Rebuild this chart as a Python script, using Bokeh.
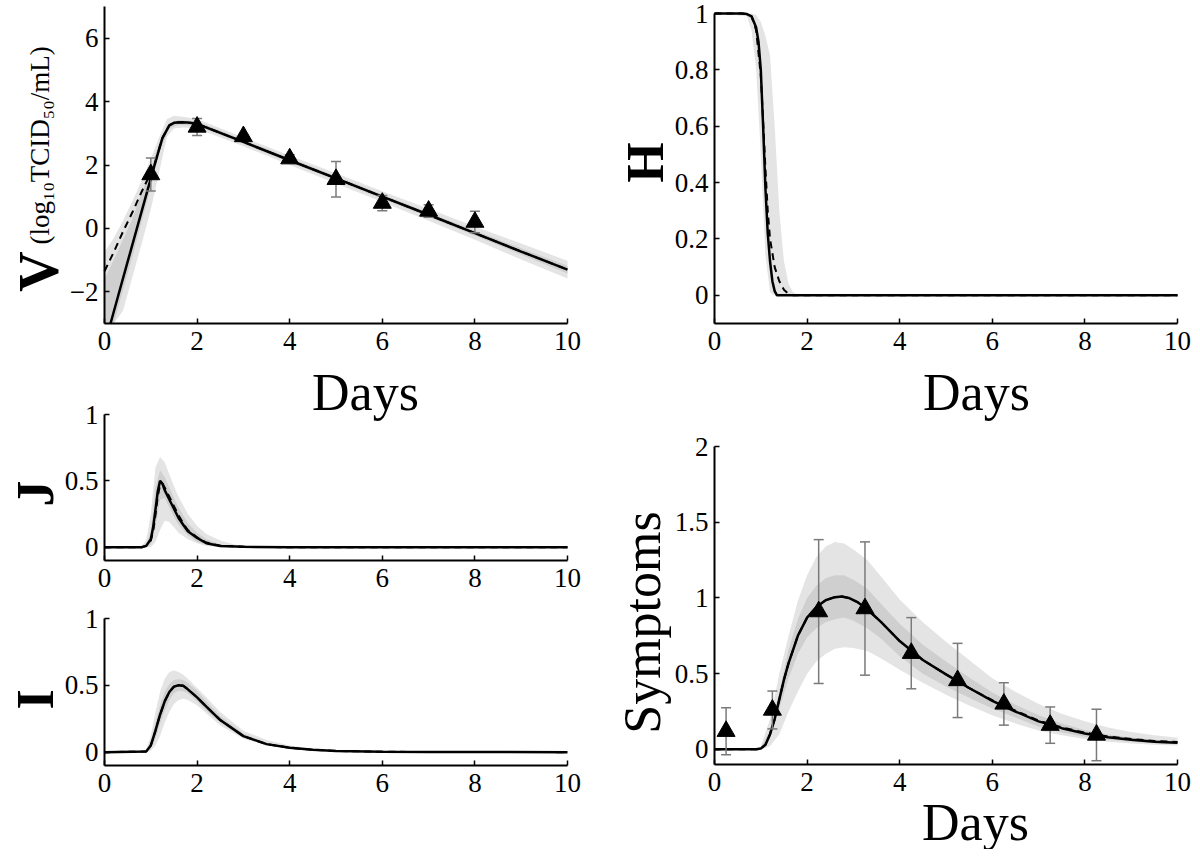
import numpy as np
from math import pi
from bokeh.plotting import figure
from bokeh.layouts import row, column
from bokeh.models import FixedTicker, CustomJSTickFormatter, Label, Range1d
from bokeh.embed import file_html
from bokeh.resources import INLINE

FONT = "Liberation Serif"
X_TICKS = [0, 2, 4, 6, 8, 10]
X_LABEL = "Days"

# ---------------- V panel (viral titer) ----------------
v_x = [0.13, 0.3, 0.5, 0.7, 0.9, 1.1, 1.25, 1.4, 1.5, 1.65, 1.8, 2.0, 3, 4, 5, 6, 7, 8, 9, 10]
v_fit = [-3.0, -2.1, -1.05, 0.0, 1.05, 2.1, 2.85, 3.25, 3.33, 3.35, 3.34, 3.3, 2.73, 2.15, 1.58, 1.0, 0.43, -0.15, -0.73, -1.3]
v_x_dash = [0, 0.2, 0.4, 0.6, 0.8, 1.0, 1.1, 1.25, 1.4, 1.5, 1.65, 1.8, 2.0, 3, 4, 5, 6, 7, 8, 9, 10]
v_fit_dash = [-1.35, -0.75, -0.1, 0.5, 1.15, 1.75, 2.1, 2.85, 3.25, 3.33, 3.35, 3.34, 3.3, 2.73, 2.15, 1.58, 1.0, 0.43, -0.15, -0.73, -1.3]
v_band_x = [0, 0.2, 0.4, 0.6, 0.8, 1.0, 1.2, 1.35, 1.5, 1.7, 2.0, 3, 4, 5, 6, 7, 8, 9, 10]
v_outer_hi = [-0.75, -0.3, 0.25, 0.85, 1.5, 2.2, 2.95, 3.45, 3.55, 3.52, 3.45, 2.87, 2.3, 1.74, 1.17, 0.62, 0.06, -0.48, -1.02]
v_outer_lo = [-4.5, -3.6, -2.6, -1.55, -0.5, 0.6, 1.9, 2.9, 3.15, 3.18, 3.15, 2.59, 2.0, 1.42, 0.83, 0.24, -0.36, -0.98, -1.58]
v_inner_x = [0, 0.2, 0.4, 0.6, 0.8, 1.0, 1.2, 1.4, 1.6, 2.0, 3, 4, 5, 6, 7, 8, 9, 10]
v_inner_hi = [-1.6, -1.0, -0.35, 0.3, 1.1, 1.9, 2.75, 3.32, 3.42, 3.37, 2.8, 2.22, 1.65, 1.07, 0.5, -0.07, -0.63, -1.18]
v_inner_lo = [-4.0, -3.0, -1.95, -0.9, 0.2, 1.3, 2.45, 3.15, 3.27, 3.23, 2.66, 2.08, 1.51, 0.93, 0.36, -0.23, -0.83, -1.42]
v_days = [1, 2, 3, 4, 5, 6, 7, 8]
v_obs = [1.7, 3.2, 2.9, 2.2, 1.55, 0.8, 0.55, 0.2]
v_err = [0.52, 0.27, 0.05, 0.12, 0.56, 0.24, 0.2, 0.34]
v_yticks = [-2, 0, 2, 4, 6]

# ---------------- H panel ----------------
h_x = [0, 0.6, 0.7, 0.8, 0.9, 0.95, 1.0, 1.05, 1.1, 1.15, 1.2, 1.25, 1.3, 1.35, 1.5, 10]
h_fit = [1, 1, 0.998, 0.99, 0.95, 0.9, 0.8, 0.6, 0.38, 0.22, 0.12, 0.05, 0.015, 0, 0, 0]
h_x_dash = [0, 0.6, 0.7, 0.8, 0.9, 1.0, 1.05, 1.1, 1.15, 1.2, 1.3, 1.4, 1.5, 1.6, 1.7, 10]
h_fit_dash = [1, 1, 0.998, 0.99, 0.94, 0.78, 0.62, 0.45, 0.3, 0.2, 0.1, 0.05, 0.02, 0.005, 0, 0]
h_band_x = [0, 0.7, 0.8, 0.9, 1.0, 1.1, 1.2, 1.3, 1.4, 1.5, 1.6, 1.7, 1.8, 10]
h_band_hi = [1, 1, 1, 0.995, 0.97, 0.92, 0.85, 0.6, 0.3, 0.12, 0.04, 0.01, 0.003, 0]
h_band_lo = [1, 0.99, 0.94, 0.8, 0.5, 0.14, 0.01, 0, 0, 0, 0, 0, 0, 0]
h_yticks = [0, 0.2, 0.4, 0.6, 0.8, 1]

# ---------------- J panel ----------------
j_x = [0, 0.8, 0.9, 1.0, 1.05, 1.1, 1.15, 1.2, 1.25, 1.3, 1.4, 1.5, 1.6, 1.7, 1.8, 2.0, 2.2, 2.5, 3.0, 4.0, 10]
j_fit = [0, 0, 0.01, 0.06, 0.15, 0.28, 0.42, 0.5, 0.48, 0.43, 0.36, 0.29, 0.22, 0.17, 0.12, 0.07, 0.03, 0.01, 0.003, 0, 0]
j_fit_dash = [0, 0, 0.01, 0.05, 0.12, 0.24, 0.38, 0.47, 0.48, 0.45, 0.38, 0.31, 0.24, 0.18, 0.13, 0.075, 0.035, 0.012, 0.003, 0, 0]
j_outer_x = [0, 0.7, 0.8, 0.9, 1.0, 1.1, 1.2, 1.3, 1.4, 1.5, 1.6, 1.8, 2.0, 2.2, 2.5, 2.8, 3.2, 4, 10]
j_outer_hi = [0, 0, 0.01, 0.05, 0.25, 0.6, 0.68, 0.64, 0.55, 0.46, 0.38, 0.25, 0.16, 0.1, 0.05, 0.02, 0.005, 0, 0]
j_outer_lo = [0, 0, 0, 0, 0, 0.04, 0.13, 0.2, 0.19, 0.15, 0.11, 0.06, 0.03, 0.01, 0, 0, 0, 0, 0]
j_inner_x = [0.8, 0.9, 1.0, 1.1, 1.2, 1.3, 1.4, 1.5, 1.6, 1.8, 2.0, 2.2, 2.5, 3.0]
j_inner_hi = [0, 0.02, 0.12, 0.45, 0.58, 0.53, 0.45, 0.37, 0.3, 0.18, 0.11, 0.06, 0.02, 0]
j_inner_lo = [0, 0, 0.02, 0.15, 0.36, 0.37, 0.3, 0.23, 0.17, 0.09, 0.04, 0.02, 0.005, 0]
ji_yticks = [0, 0.5, 1]

# ---------------- I panel ----------------
i_x = [0, 0.9, 1.0, 1.1, 1.2, 1.3, 1.4, 1.5, 1.6, 1.7, 1.8, 2.0, 2.2, 2.5, 3.0, 3.5, 4.0, 4.5, 5, 6, 7, 10]
i_fit = [0, 0.005, 0.05, 0.16, 0.28, 0.38, 0.45, 0.49, 0.5, 0.497, 0.47, 0.41, 0.34, 0.24, 0.12, 0.06, 0.033, 0.017, 0.009, 0.003, 0.001, 0]
i_band_x = [0.8, 0.9, 1.0, 1.1, 1.2, 1.3, 1.4, 1.5, 1.6, 1.7, 1.8, 2.0, 2.2, 2.5, 3.0, 3.5, 4.0, 4.5, 5, 6, 7, 10]
i_outer_hi = [0, 0.02, 0.12, 0.3, 0.45, 0.55, 0.6, 0.61, 0.6, 0.58, 0.55, 0.48, 0.41, 0.3, 0.16, 0.09, 0.05, 0.025, 0.013, 0.004, 0.001, 0]
i_outer_lo = [0, 0, 0.01, 0.05, 0.12, 0.22, 0.3, 0.36, 0.39, 0.4, 0.39, 0.35, 0.29, 0.2, 0.1, 0.05, 0.025, 0.012, 0.006, 0.002, 0, 0]
i_inner_hi = [0, 0.01, 0.08, 0.22, 0.35, 0.45, 0.51, 0.54, 0.545, 0.54, 0.52, 0.46, 0.38, 0.27, 0.14, 0.07, 0.04, 0.02, 0.01, 0.003, 0.001, 0]
i_inner_lo = [0, 0, 0.03, 0.1, 0.21, 0.31, 0.39, 0.44, 0.46, 0.455, 0.44, 0.38, 0.31, 0.22, 0.11, 0.055, 0.028, 0.014, 0.007, 0.002, 0, 0]

# ---------------- Symptoms panel ----------------
s_x = [0, 0.9, 1.0, 1.1, 1.2, 1.3, 1.4, 1.5, 1.6, 1.8, 2.0, 2.2, 2.4, 2.6, 2.75, 2.9, 3.1, 3.3, 3.6, 4.0, 4.5, 5.0, 5.5, 6.0, 6.5, 7.0, 7.5, 8.0, 8.5, 9.0, 9.5, 10]
s_fit = [0, 0, 0.005, 0.03, 0.1, 0.2, 0.33, 0.46, 0.57, 0.75, 0.87, 0.94, 0.985, 1.005, 1.01, 1.0, 0.97, 0.925, 0.84, 0.715, 0.59, 0.495, 0.405, 0.32, 0.25, 0.185, 0.14, 0.105, 0.08, 0.063, 0.051, 0.043]
s_fit_dash = [0, 0, 0.005, 0.03, 0.1, 0.2, 0.33, 0.46, 0.57, 0.75, 0.87, 0.94, 0.985, 1.005, 1.01, 1.0, 0.97, 0.925, 0.84, 0.715, 0.59, 0.495, 0.405, 0.325, 0.255, 0.19, 0.145, 0.11, 0.085, 0.068, 0.056, 0.048]
s_band_x = [0, 0.9, 1.0, 1.2, 1.4, 1.6, 1.8, 2.0, 2.2, 2.4, 2.6, 2.8, 3.0, 3.3, 3.6, 4.0, 4.5, 5.0, 5.5, 6.0, 6.5, 7.0, 7.5, 8.0, 8.5, 9.0, 9.5, 10]
s_outer_hi = [0, 0, 0.02, 0.2, 0.5, 0.75, 0.98, 1.15, 1.27, 1.34, 1.37, 1.36, 1.32, 1.25, 1.14, 0.99, 0.84, 0.71, 0.59, 0.47, 0.38, 0.3, 0.235, 0.185, 0.145, 0.115, 0.093, 0.077]
s_outer_lo = [0, 0, 0, 0.02, 0.1, 0.25, 0.38, 0.5, 0.58, 0.63, 0.665, 0.675, 0.67, 0.65, 0.6, 0.525, 0.44, 0.36, 0.29, 0.225, 0.17, 0.125, 0.093, 0.068, 0.05, 0.038, 0.031, 0.026]
s_inner_hi = [0, 0, 0.01, 0.13, 0.38, 0.66, 0.86, 1.0, 1.08, 1.13, 1.15, 1.15, 1.12, 1.06, 0.96, 0.83, 0.69, 0.58, 0.475, 0.375, 0.295, 0.225, 0.17, 0.128, 0.098, 0.078, 0.064, 0.055]
s_inner_lo = [0, 0, 0, 0.07, 0.27, 0.47, 0.63, 0.74, 0.8, 0.84, 0.86, 0.87, 0.85, 0.8, 0.73, 0.615, 0.5, 0.415, 0.34, 0.27, 0.21, 0.15, 0.112, 0.083, 0.063, 0.05, 0.04, 0.033]
s_days = [0.25, 1.25, 2.25, 3.25, 4.25, 5.25, 6.25, 7.25, 8.25]
s_obs = [0.12, 0.26, 0.91, 0.93, 0.635, 0.455, 0.3, 0.16, 0.095]
s_err = [0.155, 0.125, 0.475, 0.44, 0.235, 0.245, 0.14, 0.12, 0.17]
s_yticks = [0, 0.5, 1, 1.5, 2]

OUTER = "#e4e4e4"
INNER = "#cfcfcf"
ERR = "#7a7a7a"

fmt_code = "var v = Math.round(tick*100)/100; return (v < 0 ? '\u2212' : '') + String(Math.abs(v));"


class Panel:
    """A figure whose frame fills the whole canvas; axes are pinned at x=0 / y=y0."""

    def __init__(self, left, top, w, h, px0, px10, pyt, pyb, y0, y1, yticks):
        self.left, self.top = left, top
        self.sx = (px10 - px0) / 10.0
        self.sy = (pyb - pyt) / float(y1 - y0)
        self.x_start = -px0 / self.sx
        x_end = 10 + (w - px10) / self.sx
        self.y_end = y1 + pyt / self.sy
        y_start = y0 - (h - pyb) / self.sy
        p = figure(width=w, height=h, x_range=Range1d(self.x_start, x_end),
                   y_range=Range1d(y_start, self.y_end),
                   output_backend="svg", toolbar_location=None, title=None,
                   min_border_left=0, min_border_right=0, min_border_top=0, min_border_bottom=0)
        p.outline_line_color = None
        p.xgrid.visible = False
        p.ygrid.visible = False
        p.background_fill_color = "white"
        p.border_fill_color = "white"
        p.xaxis.ticker = FixedTicker(ticks=X_TICKS)
        p.yaxis.ticker = FixedTicker(ticks=yticks)
        p.xaxis.fixed_location = y0
        p.yaxis.fixed_location = 0
        p.xaxis.bounds = (0, 10)
        p.yaxis.bounds = (y0, y1)
        for ax in (p.xaxis[0], p.yaxis[0]):
            ax.formatter = CustomJSTickFormatter(code=fmt_code)
            ax.axis_line_width = 2
            ax.axis_line_color = "black"
            ax.major_tick_in = 5
            ax.major_tick_out = 0
            ax.major_tick_line_width = 1.5
            ax.major_tick_line_color = "black"
            ax.minor_tick_line_color = None
            ax.major_label_text_font = FONT
            ax.major_label_text_font_size = "27px"
            ax.major_label_text_color = "black"
        p.xaxis[0].major_label_standoff = 8
        p.yaxis[0].major_label_standoff = 6
        self.p = p
        self.y0 = y0

    def text(self, page_x, page_y, text, size_px, bold=False, vertical=False, align="center"):
        # page_x/page_y give the baseline anchor of the text in page pixels;
        # the renderer draws the baseline ~0.2 em lower than the anchor, so compensate.
        drop = 0.205 * size_px
        if vertical:
            page_x -= drop
        else:
            page_y -= drop
        x = self.x_start + (page_x - self.left) / self.sx
        y = self.y_end - (page_y - self.top) / self.sy
        self.p.add_layout(Label(x=x, y=y, text=text, angle=pi / 2 if vertical else 0.0,
                                text_font=FONT, text_font_size=f"{size_px}px",
                                text_font_style="bold" if bold else "normal",
                                text_align=align, text_baseline="alphabetic",
                                text_color="black"))

    def band(self, x, lo, hi, color):
        lo = np.maximum(np.array(lo, dtype=float), self.y0)
        hi = np.maximum(np.array(hi, dtype=float), self.y0)
        self.p.varea(x=x, y1=lo, y2=hi, fill_color=color, fill_alpha=1.0)

    def curves(self, x, y, xd=None, yd=None):
        if xd is not None:
            self.p.line(xd, yd, line_color="black", line_width=2, line_dash="7 5")
        self.p.line(x, y, line_color="black", line_width=2.5)

    def observations(self, xs, ys, es):
        xs = np.array(xs, dtype=float)
        ys = np.array(ys, dtype=float)
        es = np.array(es, dtype=float)
        cap = 5.0 / self.sx
        p = self.p
        p.segment(x0=xs, y0=ys - es, x1=xs, y1=ys + es, line_color=ERR, line_width=1.5)
        p.segment(x0=xs - cap, y0=ys + es, x1=xs + cap, y1=ys + es, line_color=ERR, line_width=1.5)
        p.segment(x0=xs - cap, y0=ys - es, x1=xs + cap, y1=ys - es, line_color=ERR, line_width=1.5)
        p.scatter(xs, ys, marker="triangle", size=18, fill_color="black", line_color="black")


L, R = 8, 608          # page x of the two columns
LW, RW = 600, 591      # column widths

# ---- V  (canvas page y 8..366)
V = Panel(L, 8, LW, 358, 104, 567, 6, 323, -3, 7, v_yticks)
V.band(v_band_x, v_outer_lo, v_outer_hi, OUTER)
V.band(v_inner_x, v_inner_lo, v_inner_hi, INNER)
V.curves(v_x, v_fit, v_x_dash, v_fit_dash)
V.observations(v_days, v_obs, v_err)
V.text(58, 279, "V", 56, bold=True, vertical=True)
V.text(53, 252, "(log\u2081\u2080TCID\u2085\u2080/mL)", 27, vertical=True, align="left")

# ---- J  (canvas page y 366..610)
J = Panel(L, 366, LW, 244, 104, 567, 56, 202, -0.1, 1, ji_yticks)
J.band(j_outer_x, j_outer_lo, j_outer_hi, OUTER)
J.band(j_inner_x, j_inner_lo, j_inner_hi, INNER)
J.curves(j_x, j_fit, j_x, j_fit_dash)
J.text(373, 411, X_LABEL, 52)          # x-axis title of the V panel above
J.text(54, 501, "J", 52, bold=True, vertical=True)

# ---- I  (canvas page y 610..857)
I = Panel(L, 610, LW, 247, 104, 567, 16, 163, -0.1, 1, ji_yticks)
I.band(i_band_x, i_outer_lo, i_outer_hi, OUTER)
I.band(i_band_x, i_inner_lo, i_inner_hi, INNER)
I.curves(i_x, i_fit, i_x, i_fit)
I.text(54, 707, "I", 52, bold=True, vertical=True)

# ---- H  (canvas page y 8..440)
H = Panel(R, 8, RW, 432, 114, 577, 13, 323, -0.1, 1, h_yticks)
H.band(h_band_x, h_band_lo, h_band_hi, OUTER)
H.curves(h_x, h_fit, h_x_dash, h_fit_dash)
H.text(984, 411, X_LABEL, 52)
H.text(664, 170, "H", 52, bold=True, vertical=True)

# ---- Symptoms  (canvas page y 440..857)
S = Panel(R, 440, RW, 417, 114, 577, 14, 332, -0.1, 2, s_yticks)
S.band(s_band_x, s_outer_lo, s_outer_hi, OUTER)
S.band(s_band_x, s_inner_lo, s_inner_hi, INNER)
S.curves(s_x, s_fit, s_x, s_fit_dash)
S.observations(s_days, s_obs, s_err)
S.text(983, 841, X_LABEL, 52)
S.text(661, 630, "Symptoms", 52, vertical=True)

layout = row(column(V.p, J.p, I.p, spacing=0), column(H.p, S.p, spacing=0), spacing=0)

open("out.html", "w").write(file_html(layout, INLINE))
